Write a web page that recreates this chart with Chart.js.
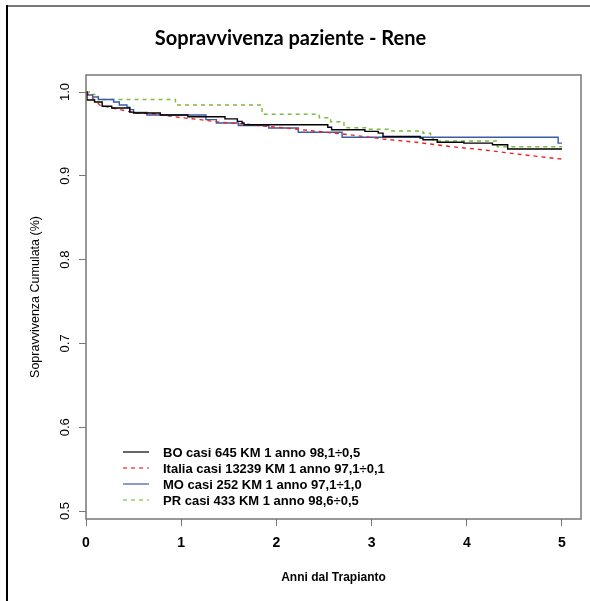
<!DOCTYPE html>
<html>
<head>
<meta charset="utf-8">
<script src="https://cdn.jsdelivr.net/npm/chart.js@4"></script>
<style>
  body { margin: 0; background: #fff; }
  #wrap { width: 590px; height: 601px; }
</style>
</head>
<body>
<div id="wrap"><canvas id="myChart" width="590" height="601"></canvas></div>
<script>
// ticks
let xTicks = [0, 1, 2, 3, 4, 5];
let yTicks = [0.5, 0.6, 0.7, 0.8, 0.9, 1.0];

// BO (step points: time of drop, value after drop)
let boTime = [0, 0.01, 0.09, 0.17, 0.27, 0.46, 0.50, 0.78, 1.07, 1.46, 1.59, 1.64, 1.66, 2.54, 2.58, 2.93, 3.07, 3.12, 3.51, 3.54, 3.69, 3.97, 4.27, 4.43, 5.0];
let boSurv = [1.0, 0.9905, 0.988, 0.983, 0.981, 0.976, 0.975, 0.9725, 0.9705, 0.968, 0.965, 0.963, 0.961, 0.958, 0.955, 0.953, 0.951, 0.947, 0.945, 0.943, 0.940, 0.939, 0.937, 0.932, 0.932];

// Italia
let itTime = [0, 0.04, 0.15, 0.36, 0.52, 0.71, 0.99, 1.2, 1.41, 1.69, 1.9, 2.1, 2.39, 2.77, 3.12, 3.47, 3.82, 4.17, 4.53, 4.95, 5.0];
let itSurv = [1.0, 0.996, 0.984, 0.979, 0.975, 0.974, 0.9695, 0.967, 0.964, 0.9615, 0.959, 0.957, 0.9535, 0.949, 0.944, 0.940, 0.935, 0.931, 0.926, 0.9205, 0.920];

// MO
let moTime = [0, 0.01, 0.07, 0.13, 0.29, 0.35, 0.43, 0.46, 0.50, 0.64, 1.26, 1.37, 1.60, 1.92, 2.23, 2.69, 4.96, 5.0];
let moSurv = [1.0, 0.9964, 0.994, 0.991, 0.988, 0.9845, 0.982, 0.979, 0.9755, 0.9725, 0.967, 0.963, 0.960, 0.957, 0.952, 0.946, 0.939, 0.939];

// PR
let prTime = [0, 0.05, 0.13, 0.94, 1.85, 2.45, 2.57, 2.71, 2.95, 3.19, 3.54, 3.62, 3.65, 4.32, 5.0];
let prSurv = [1.0, 0.997, 0.991, 0.9845, 0.9734, 0.9693, 0.9646, 0.9574, 0.9555, 0.9535, 0.9508, 0.9447, 0.9415, 0.9347, 0.9347];

let seriesLabels = [
  'BO casi 645 KM 1 anno 98,1\u00f70,5',
  'Italia casi 13239 KM 1 anno 97,1\u00f70,1',
  'MO casi 252 KM 1 anno 97,1\u00f71,0',
  'PR casi 433 KM 1 anno 98,6\u00f70,5'
];

function toPoints(times, values){
  let pts = [];
  times.forEach(function(t, i){
    pts.push({x: t, y: values[i]});
  });
  return pts;
}

let data = {
  datasets: [
    { label: seriesLabels[0], data: toPoints(boTime, boSurv), borderColor: '#000000', borderWidth: 1.4, stepped: 'before', pointRadius: 0 },
    { label: seriesLabels[1], data: toPoints(itTime, itSurv), borderColor: '#ee2222', borderWidth: 1.4, borderDash: [4, 4], pointRadius: 0, tension: 0 },
    { label: seriesLabels[2], data: toPoints(moTime, moSurv), borderColor: '#3b5ba8', borderWidth: 1.4, stepped: 'before', pointRadius: 0 },
    { label: seriesLabels[3], data: toPoints(prTime, prSurv), borderColor: '#7dbb3c', borderWidth: 1.4, borderDash: [4, 4], stepped: 'before', pointRadius: 0 }
  ]
};

// frame, plot box and legend inside the plot
let boxPlugin = {
  id: 'boxPlugin',
  beforeDraw: function(chart){
    let ctx = chart.ctx;
    ctx.save();
    ctx.fillStyle = '#fff';
    ctx.fillRect(0, 0, chart.width, chart.height);
    ctx.strokeStyle = '#777';
    ctx.lineWidth = 2;
    ctx.beginPath();
    ctx.moveTo(7, 6);
    ctx.lineTo(chart.width, 6);
    ctx.stroke();
    ctx.strokeStyle = '#000';
    ctx.beginPath();
    ctx.moveTo(7, 5);
    ctx.lineTo(7, chart.height);
    ctx.stroke();
    ctx.restore();
  },
  afterDraw: function(chart){
    let ctx = chart.ctx;
    let a = chart.chartArea;
    ctx.save();
    ctx.strokeStyle = '#777';
    ctx.lineWidth = 1.5;
    ctx.strokeRect(a.left, a.top, a.right - a.left, a.bottom - a.top);

    ctx.font = 'bold 13px "Liberation Sans", Arial, sans-serif';
    ctx.textBaseline = 'middle';
    ctx.textAlign = 'left';
    chart.data.datasets.forEach(function(ds, i){
      let y = a.bottom - 67 + i * 16;
      ctx.strokeStyle = ds.borderColor;
      ctx.lineWidth = 1.2;
      ctx.setLineDash(ds.borderDash || []);
      ctx.beginPath();
      ctx.moveTo(a.left + 37, y);
      ctx.lineTo(a.left + 63, y);
      ctx.stroke();
      ctx.setLineDash([]);
      ctx.fillStyle = '#000';
      ctx.fillText(ds.label, a.left + 77, y + 1);
    });
    ctx.restore();
  }
};

let config = {
  type: 'line',
  data: data,
  options: {
    responsive: false,
    animation: false,
    layout: { padding: { top: 0, right: 9, bottom: 0, left: 0 } },
    plugins: {
      legend: { display: false },
      tooltip: { enabled: false },
      title: {
        display: true,
        text: 'Sopravvivenza paziente - Rene',
        color: '#000',
        font: { family: 'Lato, sans-serif', weight: 'bold', size: 20 },
        padding: { top: 27, bottom: 24 }
      }
    },
    scales: {
      x: {
        type: 'linear',
        min: 0,
        max: 5.2,
        afterBuildTicks: function(scale){
          scale.ticks = xTicks.map(function(v){ return {value: v}; });
        },
        afterFit: function(scale){ scale.height = 82; },
        grid: { display: true, drawOnChartArea: false, drawTicks: true, tickLength: 7, color: '#777' },
        border: { display: false },
        ticks: {
          padding: 9,
          color: '#000',
          font: { family: '"Liberation Sans", Arial, sans-serif', weight: 'bold', size: 14 },
          callback: function(v){ return String(v); }
        },
        title: {
          display: true,
          text: 'Anni dal Trapianto',
          color: '#000',
          font: { family: '"Liberation Sans", Arial, sans-serif', weight: 'bold', size: 12 },
          padding: { top: 0, bottom: 16 }
        }
      },
      y: {
        min: 0.4905,
        max: 1.0203,
        afterBuildTicks: function(scale){
          scale.ticks = yTicks.map(function(v){ return {value: v}; });
        },
        afterFit: function(scale){ scale.width = 86; },
        grid: { display: true, drawOnChartArea: false, drawTicks: true, tickLength: 7, color: '#777' },
        border: { display: false },
        ticks: {
          padding: 5,
          minRotation: 90,
          maxRotation: 90,
          crossAlign: 'center',
          color: '#000',
          font: { family: '"Liberation Sans", Arial, sans-serif', size: 13 },
          callback: function(v){ return v.toFixed(1); }
        },
        title: {
          display: true,
          text: 'Sopravvivenza Cumulata (%)',
          color: '#000',
          font: { family: '"Liberation Sans", Arial, sans-serif', size: 12.5 },
          padding: { top: 28, bottom: 0 }
        }
      }
    }
  },
  plugins: [boxPlugin]
};

let myChart = new Chart(document.getElementById('myChart'), config);
</script>
</body>
</html>
